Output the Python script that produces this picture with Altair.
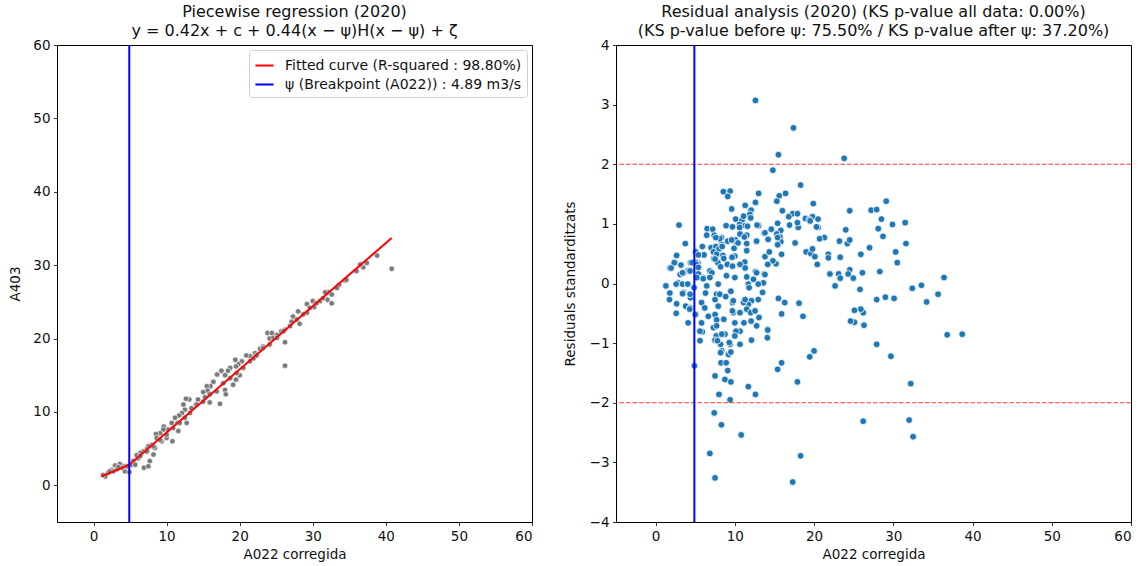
import altair as alt
import pandas as pd

# ---------------- data ----------------
# Left panel: A022 corregida (x) vs A403 (y)
left_x = [40.8, 38.8, 36.9, 36.5, 35.8, 34.4, 33.6, 32.1, 31.7, 32.6, 32.0, 32.6, 31.0, 30.0, 29.2,
          30.2, 29.2, 28.0, 27.3, 27.1, 28.2, 26.2, 26.2, 26.2, 23.8, 24.4, 24.1, 24.6, 25.1, 25.7,
          23.2, 22.8, 22.1, 21.4, 20.9, 21.9, 20.3, 19.8, 19.5, 19.4, 18.7, 18.4, 17.5, 18.0, 18.7,
          19.5, 20.0, 19.1, 18.0, 18.1, 17.3, 16.9, 16.4, 16.0, 15.5, 15.6, 15.0, 15.25, 14.3, 14.0,
          13.4, 13.1, 12.65, 15.9, 12.5, 12.1, 11.7, 11.15, 11.5, 10.7, 9.6, 10.2, 9.55, 9.1, 8.55,
          8.65, 9.3, 10.0, 10.8, 11.6, 12.75, 12.3, 7.95, 7.5, 7.3, 6.8, 6.4, 6.1, 5.9, 5.45,
          5.2, 5.7, 6.9, 7.5, 7.7, 8.2, 8.4, 4.1, 3.6, 2.95, 2.5, 2.0, 1.6, 2.7, 4.3,
          4.9, 13.2, 14.1, 15.0, 15.9, 16.85, 17.75, 19.6, 20.5, 21.4, 22.3, 23.2, 24.1, 25.1, 26.0,
          26.9, 27.8, 28.7, 29.6, 30.5, 31.4, 33.3, 34.6, 36.0, 37.4, 6.4, 7.3, 8.2, 9.1, 10.0,
          10.9, 11.8, 12.5, 3.2, 3.9, 4.6, 1.3, 2.2, 3.4]
left_y = [29.5, 31.3, 29.7, 30.1, 29.2, 27.9, 27.3, 26.3, 26.3, 26.0, 25.3, 24.8, 25.1, 25.1, 24.7,
          24.3, 23.5, 23.7, 23.0, 22.3, 22.0, 21.2, 19.5, 16.3, 20.75, 20.75, 20.0, 20.1, 20.5, 21.0,
          18.9, 18.6, 18.0, 17.6, 17.7, 17.3, 16.9, 16.5, 16.2, 17.1, 16.0, 15.6, 15.6, 15.0, 14.6,
          14.4, 15.0, 13.7, 13.0, 12.4, 11.1, 15.1, 14.1, 13.5, 13.5, 12.9, 12.7, 12.0, 11.7, 11.0,
          10.5, 11.7, 11.8, 11.3, 10.3, 9.85, 9.5, 9.2, 8.5, 8.5, 8.0, 7.6, 7.6, 7.1, 7.0,
          6.45, 6.0, 6.45, 6.0, 7.4, 8.5, 11.0, 5.5, 5.3, 4.9, 4.6, 4.4, 3.7, 4.1, 3.3,
          2.8, 2.8, 2.4, 2.6, 3.3, 4.2, 5.1, 2.6, 2.9, 2.7, 2.1, 1.7, 1.2, 1.9, 1.9,
          1.8, 9.85, 11.0, 11.4, 12.4, 12.8, 13.9, 15.3, 16.0, 16.9, 17.7, 18.7, 19.2, 20.1, 21.0,
          21.7, 22.6, 23.3, 24.2, 24.8, 25.5, 26.9, 28.0, 29.2, 30.3, 4.0, 4.6, 5.3, 6.2, 6.9,
          7.8, 8.5, 9.2, 2.2, 2.4, 2.6, 1.4, 1.9, 2.5]

# Right panel: A022 corregida (x) vs standardised residuals
res_x = [12.6, 17.4, 15.5, 23.8, 14.8, 18.3, 8.55, 9.4, 9.1, 13.0, 16.4, 15.6, 12.6, 15.3, 19.9,
         29.1, 11.3, 9.6, 12.05, 11.9, 12.0, 16.0, 24.5, 27.2, 27.9, 17.3, 17.9, 16.8, 18.9, 19.8,
         20.5, 28.5, 10.1, 10.9, 11.1, 19.4, 31.5, 15.4, 19.5, 29.9, 2.95, 8.9, 9.7, 10.6, 11.3,
         13.0, 16.9, 18.0, 17.9, 20.5, 24.0, 6.5, 7.2, 13.7, 14.6, 15.8, 15.3, 6.45, 12.8, 20.3,
         28.1, 10.6, 11.6, 10.65, 11.5, 13.8, 3.75, 7.4, 8.3, 9.1, 8.35, 10.1, 11.2, 11.5, 10.2,
         12.7, 14.2, 15.7, 15.8, 15.4, 17.6, 21.3, 20.7, 23.2, 24.2, 24.5, 27.0, 28.7, 31.6, 8.1,
         7.6, 9.6, 10.4, 12.75, 15.4, 5.9, 7.0, 7.6, 8.0, 8.4, 7.3, 2.65, 5.05, 6.1, 7.7,
         10.0, 11.5, 13.8, 14.35, 15.9, 19.0, 19.6, 19.8, 20.1, 21.8, 21.8, 23.3, 25.9, 30.3, 9.9,
         9.65, 8.5, 7.35, 8.6, 5.4, 2.45, 1.8, 3.2, 4.4, 5.35, 7.85, 11.25, 15.2, 14.8, 20.4,
         30.5, 2.35, 5.1, 4.6, 5.2, 8.2, 9.05, 9.7, 10.65, 11.3, 14.15, 6.85, 4.1, 1.95, 12.6,
         24.5, 28.3, 7.5, 5.4, 13.7, 22.0, 23.1, 23.3, 24.95, 26.1, 3.1, 3.5, 3.4, 4.35, 5.4,
         6.0, 7.1, 8.95, 10.0, 11.5, 12.75, 13.8, 6.0, 5.2, 6.85, 12.35, 24.3, 36.4, 2.85, 13.6,
         12.95, 11.7, 2.6, 3.4, 4.05, 7.9, 6.45, 1.3, 22.65, 25.8, 27.9, 29.0, 30.1, 1.8, 1.75,
         2.65, 3.5, 4.4, 3.8, 4.85, 5.8, 6.3, 6.2, 7.7, 8.1, 7.9, 8.85, 9.5, 9.7, 15.5,
         16.3, 18.1, 13.5, 12.95, 12.1, 11.7, 11.1, 11.8, 9.8, 11.3, 7.5, 4.35, 3.4, 32.4, 33.55,
         35.65, 34.2, 4.35, 2.6, 4.1, 4.3, 5.05, 6.65, 5.8, 5.9, 7.5, 7.3, 7.7, 8.6, 9.8,
         10.0, 10.65, 11.15, 11.5, 12.0, 10.65, 13.05, 12.75, 12.05, 14.1, 15.9, 18.6, 26.2, 25.9, 25.1,
         24.6, 26.3, 25.1, 7.7, 12.55, 5.6, 10.15, 9.7, 5.0, 5.6, 7.65, 7.5, 8.2, 8.35, 9.2,
         9.4, 9.5, 8.75, 12.1, 10.65, 10.0, 14.1, 27.9, 29.7, 36.8, 38.7, 19.45, 20.0, 7.8, 9.3,
         8.35, 8.2, 14.15, 4.9, 8.25, 8.9, 9.1, 7.5, 8.75, 9.5, 8.0, 9.4, 7.4, 8.3, 10.8,
         6.85, 7.5, 11.7, 12.6, 15.4, 15.9, 17.9, 18.3, 17.3, 26.2, 32.2, 32.0, 32.5]
res_r = [3.07, 2.61, 2.16, 2.10, 1.90, 1.65, 1.54, 1.55, 1.46, 1.51, 1.51, 1.47, 1.36, 1.38, 1.34,
         1.38, 1.31, 1.25, 1.23, 1.16, 1.10, 1.22, 1.22, 1.23, 1.24, 1.17, 1.17, 1.12, 1.09, 1.12,
         1.08, 1.08, 1.08, 1.06, 1.13, 1.07, 1.02, 1.01, 1.05, 0.99, 0.98, 0.97, 0.95, 0.99, 0.97,
         0.97, 0.98, 0.94, 1.02, 0.94, 0.90, 0.92, 0.91, 0.84, 0.91, 0.89, 0.83, 0.81, 0.98, 0.95,
         0.92, 0.94, 0.96, 0.83, 0.81, 0.85, 0.67, 0.81, 0.77, 0.71, 0.65, 0.73, 0.78, 0.67, 0.67,
         0.71, 0.74, 0.78, 0.70, 0.65, 0.68, 0.77, 0.75, 0.71, 0.67, 0.73, 0.60, 0.79, 0.67, 0.75,
         0.77, 0.73, 0.68, 0.71, 0.77, 0.62, 0.60, 0.62, 0.58, 0.62, 0.53, 0.47, 0.53, 0.48, 0.49,
         0.46, 0.55, 0.45, 0.53, 0.49, 0.53, 0.50, 0.58, 0.45, 0.49, 0.43, 0.44, 0.49, 0.53, 0.59,
         0.44, 0.47, 0.42, 0.42, 0.48, 0.35, 0.26, 0.31, 0.35, 0.34, 0.35, 0.36, 0.33, 0.38, 0.32,
         0.35, 0.35, 0.35, 0.35, 0.32, 0.28, 0.32, 0.29, 0.32, 0.26, 0.32, 0.21, 0.21, 0.26, 0.20,
         0.23, 0.20, 0.41, 0.27, 0.16, 0.16, 0.16, 0.09, 0.09, 0.18, 0.15, 0.17, 0.18, 0.21, 0.16,
         0.10, 0.18, 0.13, 0.10, 0.11, 0.18, 0.15, 0.08, 0.10, 0.10, 0.07, 0.16, 0.10, 0.01, 0.01,
         -0.01, -0.01, -0.01, -0.01, -0.01, -0.01, -0.04, -0.04, -0.04, -0.10, -0.27, -0.23, -0.25, -0.16, -0.27,
         -0.34, -0.15, -0.24, -0.38, -0.07, -0.32, -0.16, -0.41, -0.18, -0.18, -0.38, -0.22, -0.13, -0.32, -0.25,
         -0.32, -0.33, -0.15, -0.27, -0.29, -0.35, -0.32, -0.07, -0.29, -0.27, -0.27, -0.18, -0.17, -0.08, -0.03,
         -0.18, -0.31, -0.41, -0.50, -0.66, -0.43, -0.52, -0.55, -0.66, -0.81, -0.52, -0.74, -0.61, -0.60, -0.49,
         -0.66, -0.49, -0.66, -0.43, -0.49, -0.80, -0.57, -0.71, -0.63, -0.77, -0.51, -0.55, -0.49, -0.43, -0.65,
         -0.63, -0.70, -0.45, -0.71, -0.46, -0.80, -0.80, -0.46, -0.52, -0.96, -0.88, -0.95, -1.02, -1.13, -1.19,
         -1.02, -1.15, -0.85, -0.95, -1.02, -0.88, -0.91, -1.02, -1.22, -0.86, -0.85, -1.23, -1.13, -0.96, -0.99,
         -0.85, -1.16, -0.78, -1.38, -1.33, -1.33, -1.46, -1.55, -1.61, -1.65, -1.86, -1.95, -2.17, -2.37, -2.54,
         -2.85, -3.26, -1.73, -1.86, -1.44, -1.33, -1.65, -2.89, -3.33, -2.31, -1.68, -2.29, -2.57]

breakpoint_x = 4.89
fit_x = [1.1, 4.89, 40.8]
fit_y = [1.2, 2.8, 33.7]
band_levels = [2, -2]
tick_vals = [0, 10, 20, 30, 40, 50, 60]
res_ticks = [-4, -3, -2, -1, 0, 1, 2, 3, 4]

fit_label = "Fitted curve (R-squared : 98.80%)"
bp_label = "ψ (Breakpoint (A022)) : 4.89 m3/s"

FONT = "DejaVu Sans"
LBL = 13.5

left_df = pd.DataFrame({"x": left_x, "y": left_y})
fit_df = pd.DataFrame({"x": fit_x, "y": fit_y, "series": [fit_label] * len(fit_x)})
bp_df = pd.DataFrame({"x": [breakpoint_x], "series": [bp_label]})
res_df = pd.DataFrame({"x": res_x, "r": res_r})
band_df = pd.DataFrame({"y": band_levels})


def axis(values, title_pad):
    return alt.Axis(values=values, grid=False, tickSize=3.5, tickColor="black", tickWidth=0.8,
                    domainColor="black", labelFont=FONT, labelFontSize=LBL, labelColor="#111",
                    labelPadding=3.5, titleFont=FONT, titleFontSize=LBL, titleFontWeight="normal",
                    titleColor="#111", titlePadding=title_pad, format="d")


xs = alt.Scale(domain=[-5, 60], nice=False, zero=False)
ys_left = alt.Scale(domain=[-5, 60], nice=False, zero=False)
ys_right = alt.Scale(domain=[-4, 4], nice=False, zero=False)

X_T = "A022 corregida"
color_scale = alt.Scale(domain=[fit_label, bp_label], range=["#ff0000", "#0000ff"])
legend = alt.Legend(title=None, orient="top-right", offset=5, symbolType="stroke", symbolSize=330,
                    symbolStrokeWidth=2, labelFont=FONT, labelFontSize=14, labelColor="#111",
                    strokeColor="#d0d0d0", fillColor="white", padding=5, cornerRadius=3,
                    rowPadding=1, labelOffset=10, labelLimit=500)

xl = alt.X("x:Q", scale=xs, axis=axis(tick_vals, 5), title=X_T)

pts = alt.Chart(left_df).mark_circle(size=30, fill="#7a7a7a", stroke="white", strokeWidth=0.6,
                                     opacity=1).encode(
    x=xl, y=alt.Y("y:Q", scale=ys_left, axis=axis(tick_vals, 10), title="A403"))
fit = alt.Chart(fit_df).mark_line(strokeWidth=2).encode(
    x=alt.X("x:Q", title=X_T), y=alt.Y("y:Q", title="A403"),
    color=alt.Color("series:N", scale=color_scale, legend=legend))
bp = alt.Chart(bp_df).mark_rule(strokeWidth=2).encode(
    x=alt.X("x:Q", title=X_T), color=alt.Color("series:N", scale=color_scale, legend=legend))

left = alt.layer(pts, fit, bp).properties(
    width=475, height=477,
    title=alt.Title(["Piecewise regression (2020)",
                     "y = 0.42x + c + 0.44(x − ψ)H(x − ψ) + ζ"]))

R_T = "Residuals standarditzats"
rpts = alt.Chart(res_df).mark_circle(size=46, fill="#1f77b4", stroke="white", strokeWidth=0.8,
                                     opacity=1).encode(
    x=alt.X("x:Q", scale=xs, axis=axis(tick_vals, 5), title=X_T),
    y=alt.Y("r:Q", scale=ys_right, axis=axis(res_ticks, 12), title=R_T))
bands = alt.Chart(band_df).mark_rule(color="#ff0000", strokeDash=[4.5, 2], strokeWidth=1.2,
                                     opacity=0.8).encode(y=alt.Y("y:Q", title=R_T))
bp_r = alt.Chart(bp_df).mark_rule(color="#0000ff", strokeWidth=2).encode(
    x=alt.X("x:Q", title=X_T))

right = alt.layer(rpts, bands, bp_r).properties(
    width=515, height=477,
    title=alt.Title(["Residual analysis (2020) (KS p-value all data: 0.00%)",
                     "(KS p-value before ψ: 75.50% / KS p-value after ψ: 37.20%)"]))

chart = alt.hconcat(left, right, spacing=29).resolve_scale(color="independent").properties(
    padding={"left": 8, "top": 3, "right": 3, "bottom": 0}
).configure_view(stroke="black", strokeWidth=1).configure_title(
    font=FONT, fontSize=16, fontWeight="normal", color="#111", anchor="middle", frame="group",
    lineHeight=19, offset=-1
)

chart.save("out.html", embed_options={"renderer": "svg", "actions": False})
